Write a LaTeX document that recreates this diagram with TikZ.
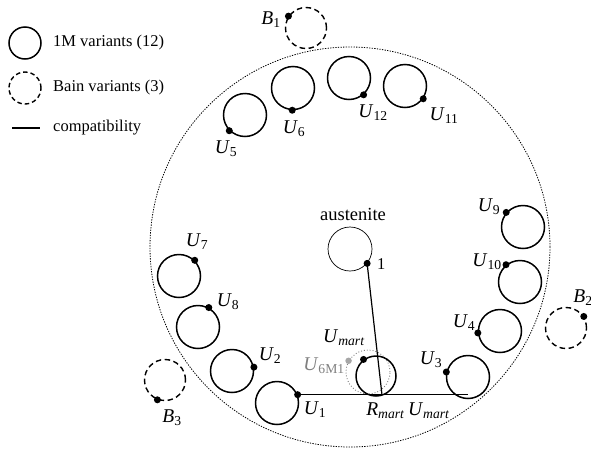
\documentclass[tikz,border=0pt]{standalone}
\usepackage{fontspec}
\setmainfont{Liberation Serif}
\newcommand\Lab[2]{\textit{#1}\textsubscript{#2}}
\begin{document}
\begin{tikzpicture}[x=1pt,y=-1pt,
  ucirc/.style={circle,draw,line width=1.5pt,inner sep=0pt,minimum size=43pt},
  bcirc/.style={circle,draw,dashed,dash pattern=on 5.5pt off 3.5pt,line width=1.4pt,inner sep=0pt,minimum size=41pt},
  acirc/.style={circle,draw,line width=0.7pt,inner sep=0pt,minimum size=44pt},
  dotc/.style={circle,fill=black,inner sep=0pt,minimum size=7pt},
  gdot/.style={circle,fill=gray!70,inner sep=0pt,minimum size=6.5pt},
  lab/.style={font=\fontsize{19.5}{21}\selectfont,inner sep=0pt},
  leg/.style={font=\fontsize{16.5}{18}\selectfont,anchor=west,inner sep=0pt},
  comp/.style={line width=1.2pt}]
\useasboundingbox (0,0) rectangle (591,453);
% outer dotted circle
\node[circle,draw,dash pattern=on 1.3pt off 1.3pt,line width=0.8pt,minimum size=400pt,inner sep=0pt] (outer) at (350,247) {};
% legend
\node[ucirc,minimum size=32pt] (legu) at (25,43) {};
\node[leg] (legut) at (53,43) {1M variants (12)};
\node[bcirc,minimum size=32pt,dash pattern=on 4.5pt off 3pt] (legb) at (25,88) {};
\node[leg] (legbt) at (53,88) {Bain variants (3)};
\coordinate (legl1) at (12,128);
\coordinate (legl2) at (40,128);
\draw[comp] (legl1) -- (legl2);
\node[leg] (legct) at (53,128) {compatibility};
% 1M variants
\node[ucirc] (u5) at (245,115) {};  \node[dotc] (d5) at (u5.225) {};  \node[lab] at (226,149) {\Lab{U}{5}};
\node[ucirc] (u6) at (293,88) {};   \node[dotc] (d6) at (u6.268) {};  \node[lab] at (294,129) {\Lab{U}{6}};
\node[ucirc] (u12) at (349,78) {};  \node[dotc] (d12) at (u12.311) {}; \node[lab] at (373,113) {\Lab{U}{12}};
\node[ucirc] (u11) at (405,86) {};  \node[dotc] (d11) at (u11.325) {}; \node[lab] at (444,116) {\Lab{U}{11}};
\node[ucirc] (u7) at (179,276) {};  \node[dotc] (d7) at (u7.45) {};   \node[lab] at (197,242) {\Lab{U}{7}};
\node[ucirc] (u8) at (198,327) {};  \node[dotc] (d8) at (u8.61) {};   \node[lab] at (228,302) {\Lab{U}{8}};
\node[ucirc] (u2) at (232,371) {};  \node[dotc] (d2) at (u2.10) {};   \node[lab] at (270,356) {\Lab{U}{2}};
\node[ucirc] (u1) at (277,403) {};  \node[dotc] (d1) at (u1.22) {};   \node[lab] at (315,410) {\Lab{U}{1}};
\node[ucirc] (u3) at (468,377) {};  \node[dotc] (d3) at (u3.167) {};  \node[lab] at (431,360) {\Lab{U}{3}};
\node[ucirc] (u4) at (500,331) {};  \node[dotc] (d4) at (u4.185) {};  \node[lab] at (464,323) {\Lab{U}{4}};
\node[ucirc] (u10) at (520,282) {}; \node[dotc] (d10) at (u10.129) {}; \node[lab] at (487,262) {\Lab{U}{10}};
\node[ucirc] (u9) at (523,227) {};  \node[dotc] (d9) at (u9.139) {};  \node[lab] at (489,207) {\Lab{U}{9}};
% Bain variants
\node[bcirc] (b1) at (306,28) {};  \node[dotc] (db1) at (b1.146) {}; \node[lab] at (271,20) {\Lab{B}{1}};
\node[bcirc] (b2) at (566,328) {}; \node[dotc] (db2) at (b2.33) {};  \node[lab] at (583,298) {\Lab{B}{2}};
\node[bcirc] (b3) at (165,380) {}; \node[dotc] (db3) at (b3.249) {}; \node[lab] at (172,418) {\Lab{B}{3}};
% austenite
\node[acirc] (aus) at (350,249) {}; \node[dotc] (da) at (aus.320) {};
\node[font=\fontsize{18.5}{20}\selectfont] (austxt) at (353,214) {austenite};
\node[font=\fontsize{16.5}{18}\selectfont,anchor=west,inner sep=0pt] (one) at (377,264) {1};
% 6M1 dotted
\node[circle,draw=gray,dotted,line width=0.9pt,inner sep=0pt,minimum size=44pt] (u6m) at (368,372) {};
\node[gdot] (d6m) at (u6m.150) {};
\node[lab,text=gray] at (324,366) {\Lab{U}{6M1}};
% Umart
\node[ucirc,minimum size=40pt] (um) at (376,376) {}; \node[dotc] (dum) at (um.127) {};
\node[lab] at (344,338) {\Lab{U}{\textit{mart}}};
% compatibility lines
\coordinate (rm) at (382,395);
\draw[comp] (d1.center) -- (d1.center -| u3.south);
\draw[comp] (da.center) -- (rm);
\node[lab] at (408,411) {\Lab{R}{\textit{mart}}\,\Lab{U}{\textit{mart}}};
\end{tikzpicture}
\end{document}
